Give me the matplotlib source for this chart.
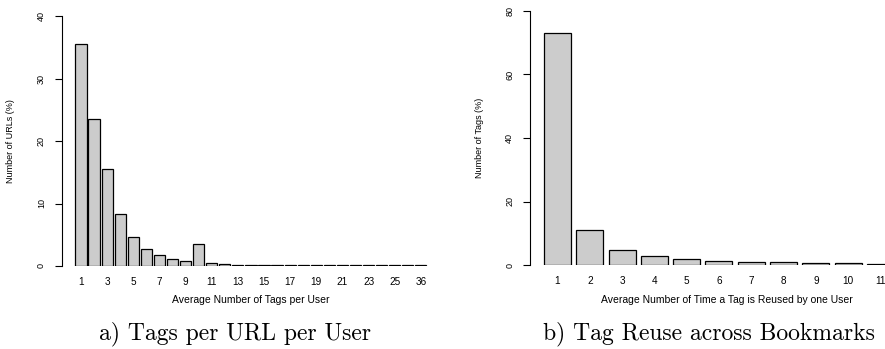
"""Two R-style bar charts: tags per URL per user, tag reuse across bookmarks."""

import matplotlib
matplotlib.use("Agg")
import matplotlib.pyplot as plt
import numpy as np

# panel a: tags per URL per user
tags_cats = [str(i) for i in range(1, 27)] + ["36"]
tags_pct = [35.5, 23.6, 15.5, 8.4, 4.6, 2.7, 1.7, 1.1, 0.85, 3.6,
            0.43, 0.3, 0.22, 0.18, 0.15, 0.12, 0.11, 0.1, 0.1, 0.1,
            0.1, 0.1, 0.1, 0.1, 0.1, 0.1, 0.1]

# panel b: tag reuse across bookmarks
reuse_cats = [str(i) for i in range(1, 12)]
reuse_pct = [73.2, 10.9, 4.7, 2.7, 1.8, 1.3, 0.9, 0.8, 0.6, 0.5, 0.4]

W, H = 885, 349
SANS = ["Liberation Sans", "DejaVu Sans"]
BAR = "#cccccc"


def px_axes(fig, left, top, right, bottom):
    """Axes from pixel edges (origin top-left)."""
    return fig.add_axes([left / W, (H - bottom) / H,
                         (right - left) / W, (bottom - top) / H])


def r_barplot(ax, cats, vals, xlim, ylim, yticks, width, every, ylabel):
    x = np.arange(1, len(vals) + 1)
    ax.bar(x, vals, width=width, color=BAR, edgecolor="black", lw=0.9)
    ax.set_xlim(*xlim)
    ax.set_ylim(*ylim)
    for s in ("top", "right", "bottom"):
        ax.spines[s].set_visible(False)
    ax.spines["left"].set_linewidth(0.8)
    ax.set_yticks(yticks)
    ax.set_yticklabels([str(t) for t in yticks], rotation=90, va="center",
                       family=SANS, fontsize=6.5)
    ax.tick_params(axis="y", length=4.8, width=0.8, pad=6.5)
    idx = list(range(0, len(vals), every))
    ax.set_xticks(x[idx])
    ax.set_xticklabels([cats[i] for i in idx], family=SANS, fontsize=7.2)
    ax.tick_params(axis="x", length=0, pad=8)
    ax.set_ylabel(ylabel, family=SANS, fontsize=6.5)
    ax.patch.set_alpha(0)


fig = plt.figure(figsize=(W / 100, H / 100), dpi=100)

ax1 = px_axes(fig, 61.7, 16, 430, 266)
r_barplot(ax1, tags_cats, tags_pct, (-0.477, 27.7), (0, 40),
          [0, 10, 20, 30, 40], 0.86, 2, "Number of URLs (%)")
ax1.yaxis.set_label_coords(-(61.7 - 15) / (430 - 61.7), 0.5)

ax2 = px_axes(fig, 530, 11, 885, 265)
r_barplot(ax2, reuse_cats, reuse_pct, (0.149, 11.14), (0, 80),
          [0, 20, 40, 60, 80], 0.836, 1, "Number of Tags (%)")
ax2.yaxis.set_label_coords(-(530 - 484) / (885 - 530), 0.5)

# x labels (R places them under the plot region)
fig.text(251 / W, 1 - 300 / H, "Average Number of Tags per User",
         ha="center", va="center", family=SANS, fontsize=7.5)
fig.text(853 / W, 1 - 300 / H,
         "Average Number of Time a Tag is Reused by one User",
         ha="right", va="center", family=SANS, fontsize=7.5)

# sub-figure captions
fig.text(235 / W, 1 - 339 / H, "a) Tags per URL per User",
         ha="center", va="baseline", family=["cmr10", "DejaVu Serif"],
         fontsize=17)
fig.text(709 / W, 1 - 339 / H, "b) Tag Reuse across Bookmarks",
         ha="center", va="baseline", family=["cmr10", "DejaVu Serif"],
         fontsize=17)

fig.savefig("out.png", dpi=100)
